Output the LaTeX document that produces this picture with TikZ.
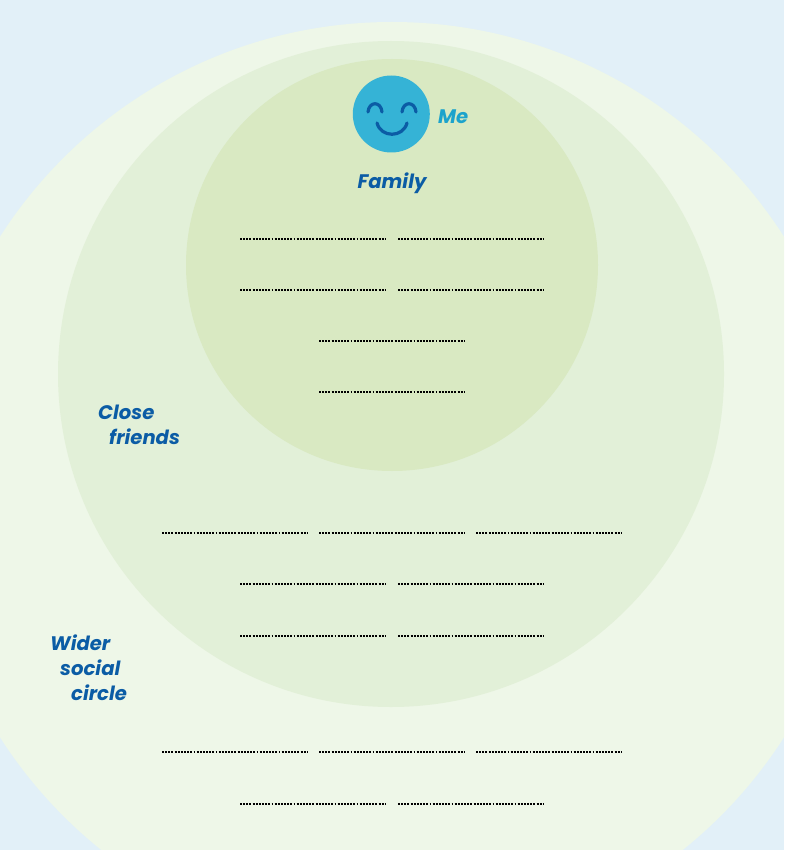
\documentclass[tikz,border=0pt]{standalone}
\usepackage{fontspec}
\setmainfont{Poppins}
\definecolor{bgc}{HTML}{E2F0F8}
\definecolor{outerc}{HTML}{EEF7E8}
\definecolor{midc}{HTML}{E2F0D8}
\definecolor{innerc}{HTML}{D9E9C2}
\definecolor{facec}{HTML}{35B3D6}
\definecolor{navy}{HTML}{0B5CA5}
\definecolor{mec}{HTML}{1CA3CC}
\tikzset{
  px/.style={x=1pt,y=-1pt},
  lbl/.style={font=\fontsize{19.6}{19.6}\selectfont\bfseries\itshape,text=navy,inner sep=0pt,anchor=base west},
  fillin/.style={draw=black,line width=2pt,dash pattern=on 1.9pt off 1.25pt},
  feat/.style={draw=navy,line width=3.2pt,line cap=round}
}
\begin{document}
\begin{tikzpicture}[px]
\useasboundingbox (0,0) rectangle (784,850);
\clip (0,0) rectangle (784,850);
\fill[bgc] (0,0) rectangle (784,850);
\fill[outerc] (392,487) circle[radius=465];
\fill[midc] (391,374) circle[radius=333];
\fill[innerc] (392,265) circle[radius=206];
\node[circle,fill=facec,minimum size=77pt,inner sep=0pt] (face) at (391.3,114) {};
\draw[feat] (368,112) .. controls (369,101) and (381,101) .. (382,112);
\draw[feat] (402,112) .. controls (403,101) and (415,101) .. (416,112);
\draw[feat] (377,123) .. controls (381,138) and (403,138) .. (407,123);
\node[lbl,text=mec] (me) at (438,124) {Me};
\node[lbl] (family) at (357.5,189) {Family};
\node[lbl] (close) at (98,419) {Close};
\node[lbl] (friends) at (109,444) {friends};
\node[lbl] (wider) at (50,650) {Wider};
\node[lbl] (social) at (60,675) {social};
\node[lbl] (circle) at (71,700) {circle};
\foreach \y in {239,290,584,636,804}{
  \draw[fillin] (240,\y) -- (385,\y);
  \draw[fillin] (398,\y) -- (543.5,\y);
}
\foreach \y in {341,392}{
  \draw[fillin] (319,\y) -- (464.5,\y);
}
\foreach \y in {533,752}{
  \draw[fillin] (162,\y) -- (307.5,\y);
  \draw[fillin] (319,\y) -- (464.5,\y);
  \draw[fillin] (476,\y) -- (621.5,\y);
}
\end{tikzpicture}
\end{document}
